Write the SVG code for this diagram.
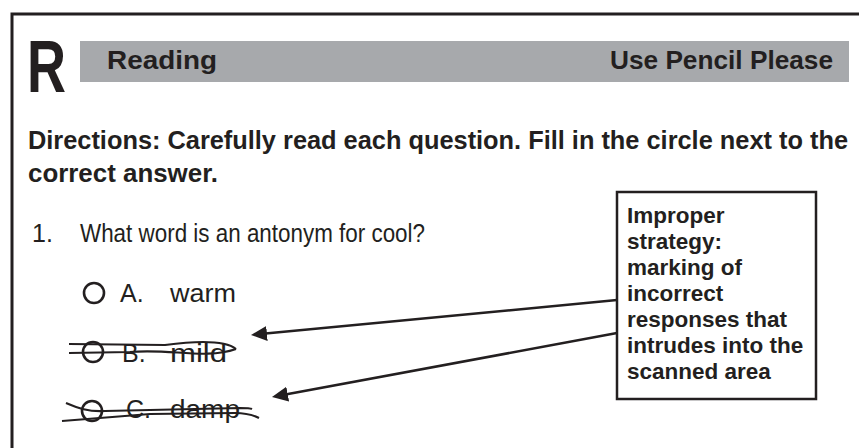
<svg xmlns="http://www.w3.org/2000/svg" width="859" height="448" viewBox="0 0 859 448">
<style>
.hd{font-family:"Liberation Sans",Arial,sans-serif;font-weight:bold;fill:#231f20}
.rg{font-family:"Liberation Sans",Arial,sans-serif;font-size:25px;fill:#231f20}
.cb{font-family:"Liberation Sans",Arial,sans-serif;font-weight:bold;font-size:22.5px;fill:#231f20}
.ln{fill:none;stroke:#231f20;stroke-width:2.5}
.st{fill:none;stroke:#231f20;stroke-width:2.2}
.cir{fill:none;stroke:#231f20;stroke-width:2.6}
</style>
<defs>
<marker id="ah" markerWidth="16" markerHeight="15" refX="12" refY="7.5" orient="auto" markerUnits="userSpaceOnUse">
<path d="M0,0 L16,7.5 L0,15 Z" fill="#231f20"/>
</marker>
</defs>
<rect width="859" height="448" fill="#ffffff"/>
<g id="frame">
<path d="M12,448 V14 H859" fill="none" stroke="#231f20" stroke-width="3"/>
</g>
<g id="header">
<text class="hd" x="27" y="92" font-size="74" textLength="39" lengthAdjust="spacingAndGlyphs">R</text>
<rect x="80" y="41" width="769" height="41" fill="#a7a9ac"/>
<text class="hd" x="107" y="69" font-size="26" textLength="110" lengthAdjust="spacingAndGlyphs">Reading</text>
<text class="hd" x="610" y="69" font-size="26" textLength="223" lengthAdjust="spacingAndGlyphs">Use Pencil Please</text>
</g>
<g id="directions">
<text class="hd" x="28" y="149" font-size="25" textLength="820" lengthAdjust="spacingAndGlyphs">Directions: Carefully read each question. Fill in the circle next to the</text>
<text class="hd" x="28" y="182" font-size="25" textLength="190" lengthAdjust="spacingAndGlyphs">correct answer.</text>
</g>
<g id="question">
<text class="rg" x="32" y="242">1.</text>
<text class="rg" x="80" y="242" textLength="345" lengthAdjust="spacingAndGlyphs">What word is an antonym for cool?</text>
</g>
<g id="optionA">
<circle class="cir" cx="94" cy="293" r="10"/>
<text class="rg" x="120" y="302">A.</text>
<text class="rg" x="170" y="302" textLength="66" lengthAdjust="spacingAndGlyphs">warm</text>
</g>
<g id="optionB">
<circle class="cir" cx="93" cy="352" r="10"/>
<text class="rg" x="122" y="362">B.</text>
<text class="rg" x="170" y="362" textLength="57" lengthAdjust="spacingAndGlyphs">mild</text>
<path class="st" d="M69,344 L165,345 C195,341 225,340 236,349"/>
<path class="st" d="M69,353 L130,352 C170,348 205,360 236,349"/>
</g>
<g id="optionC">
<circle class="cir" cx="92" cy="411" r="10"/>
<text class="rg" x="126" y="418">C.</text>
<text class="rg" x="170" y="418" textLength="70" lengthAdjust="spacingAndGlyphs">damp</text>
<path class="st" d="M66,403 C78,408 88,412 105,411 L240,408 C246,408 250,408 252,409"/>
<path class="st" d="M62,421 L150,414 L235,413 C248,413 255,416 259,418"/>
</g>
<g id="note">
<rect x="617" y="192" width="199" height="207" fill="#ffffff" stroke="#231f20" stroke-width="2.5"/>
<text class="cb" x="627" y="223">Improper</text>
<text class="cb" x="627" y="249">strategy:</text>
<text class="cb" x="627" y="275">marking of</text>
<text class="cb" x="627" y="301">incorrect</text>
<text class="cb" x="627" y="327">responses that</text>
<text class="cb" x="627" y="353">intrudes into the</text>
<text class="cb" x="627" y="379">scanned area</text>
</g>
<g id="connectors">
<line class="ln" x1="617" y1="300" x2="255" y2="334.6" marker-end="url(#ah)"/>
<line class="ln" x1="617" y1="333" x2="275.9" y2="396.3" marker-end="url(#ah)"/>
</g>
</svg>
